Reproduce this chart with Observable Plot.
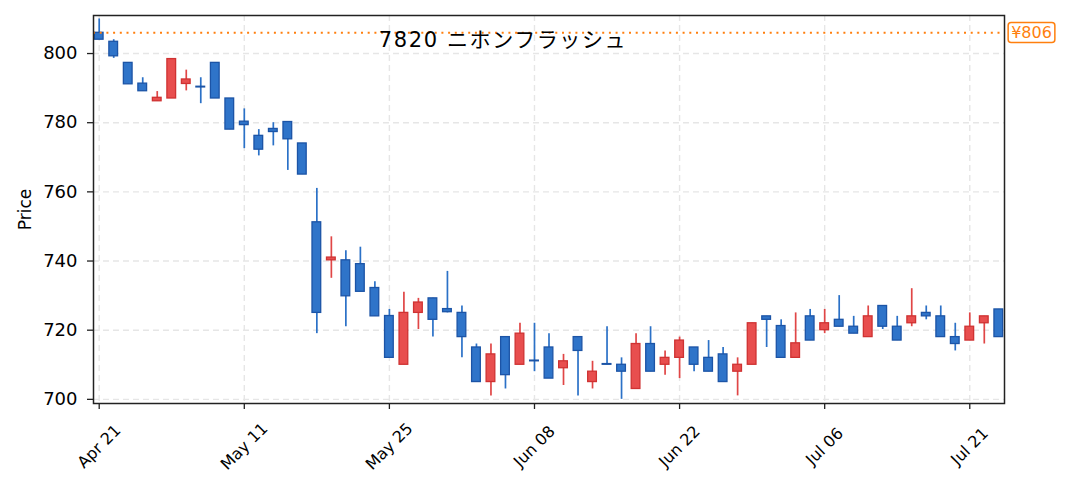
<!DOCTYPE html>
<html><head><meta charset="utf-8">
<script src="https://cdn.jsdelivr.net/npm/d3@7"></script>
<script src="https://cdn.jsdelivr.net/npm/@observablehq/plot@0.6"></script>
<style>
body{margin:0;background:#fff;}
#chart{width:1069px;height:492px;}
</style></head><body><div id="chart"></div>
<script>
const title = "7820 ニホンフラッシュ";
const refPrice = 806;
const opens  = [806,803.4,797.3,791.3,786.2,787,791.2,790.4,797.3,787,780.3,776.2,778.2,780.2,774,751.2,740.2,740.2,739.1,732.2,724.1,710,725,729.2,726.1,725,715,705,718,710,711.2,715,709,718,705,710.2,710,703,716,710,712,715,712,713,708,710,724,721.2,712,724,720,723,721,718,727,721,722,725,724,718,717,722,726];
const highs  = [810,804,797.3,793,789,798.4,795.2,793,797.3,787,784,778,780,780.2,774,761,747,743,744,734,726,731,729.2,729.2,737,727,716,716,718,722,722,719,713,718,711,721,712,719,721,714,718,715,717,715,712,722,724,723,725,726,726,730,724,727,727,724,732,727,727,722,725,724,726];
const lows   = [804,798.6,791.1,789.1,786.2,787,789.2,785.5,787,778,772.5,770.4,773.3,766.2,765,719,735,721,731.1,724,712,710,720.2,718,725,712,705,701,703,710,708,706,704,701,703,710,700,703,708,707,706,708,708,705,701,710,715,712,712,717,719,721,719,718,720.2,717,721,723,718,714,717,716,718];
const closes = [804,799.2,791.1,789.1,787.2,798.4,792.5,790.2,787,778,779.3,772.2,777.3,775.2,765,725,741,729.8,731.1,724,712,725,728,723,725.2,718,705,713,707,719,711,706,711,714,708,710,708,716,708,712,717,710,708,705,710,722,723,712,716.2,717,722,721,719,724,721,717,724,724,718,716,721,724,718];
const xTickIdx = [0,10,20,30,40,50,60];
const xTickLabels = ["Apr 21","May 11","May 25","Jun 08","Jun 22","Jul 06","Jul 21"];
const yTicks = [700,720,740,760,780,800];

const data = opens.map((o,i)=>({i, open:o, high:highs[i], low:lows[i], close:closes[i], up: closes[i] >= o}));
const blueFill="#2f74c9", blueStroke="#1c54a6", redFill="#e84e4e", redStroke="#cf3232";
const blueWick="#2b71c7", redWick="#e04646";
const orange="#ff7f0e";
const font = "'DejaVu Sans','Noto Sans CJK JP',sans-serif";

const chart = Plot.plot({
  width:1069, height:492,
  marginLeft:93, marginRight:65, marginTop:15, marginBottom:89,
  style:{fontFamily:font, fontSize:"16px", color:"#000", background:"#fff", overflow:"visible"},
  x:{type:"band", domain:d3.range(opens.length), paddingInner:0.4, paddingOuter:0.093, axis:null, label:null},
  y:{domain:[698.8, 811], axis:null, label:null},
  marks:[
    Plot.gridY(yTicks, {stroke:"#e6e6e6", strokeOpacity:1, strokeDasharray:"6,4", strokeWidth:1.4}),
    Plot.gridX(xTickIdx, {stroke:"#e6e6e6", strokeOpacity:1, strokeDasharray:"6,4", strokeWidth:1.4}),
    Plot.ruleX(data, {x:"i", y1:"low", y2:"high", stroke:d=>d.up?redWick:blueWick, strokeWidth:1.7}),
    Plot.barY(data, {x:"i", y1:"open", y2:"close", fill:d=>d.up?redFill:blueFill, stroke:d=>d.up?redStroke:blueStroke, strokeWidth:1.3}),
    Plot.ruleY([refPrice], {stroke:orange, strokeDasharray:"2,4.7", strokeWidth:2}),
    Plot.frame({stroke:"#222", strokeWidth:1.5}),
    Plot.axisY(yTicks, {tickSize:6, tickPadding:10, fontSize:18, stroke:"#222", strokeWidth:1.3, label:null}),
    Plot.axisX(xTickIdx, {tickSize:6, text:null, stroke:"#222", strokeWidth:1.3, label:null}),
    Plot.text(xTickIdx, {x:d=>d, text:(d,k)=>xTickLabels[k], frameAnchor:"bottom", lineAnchor:"middle", dy:43, rotate:-45, textAnchor:"middle", fontSize:16}),
    Plot.text(["Price"], {frameAnchor:"left", lineAnchor:"middle", textAnchor:"middle", dx:-68, rotate:-90, fontSize:17}),
    Plot.text([title], {frameAnchor:"top", lineAnchor:"middle", textAnchor:"middle", dx:-46, dy:25, fontSize:21, className:"titletext"}),
    Plot.text([refPrice], {y:d=>d, text:d=>"¥"+d, frameAnchor:"right", lineAnchor:"middle", textAnchor:"middle", dx:27, fill:orange, fontSize:16, className:"reflabel"})
  ]
});
document.getElementById("chart").appendChild(chart);
d3.select(chart).selectAll("g.titletext text").style("letter-spacing","1.6px");
d3.select(chart).selectAll("g.reflabel text").each(function(){
  const bb = this.getBBox();
  d3.select(this.parentNode).insert("rect","text")
    .attr("transform", this.getAttribute("transform"))
    .attr("x", bb.x-3).attr("y", bb.y-0.5).attr("width", bb.width+6).attr("height", bb.height+1)
    .attr("rx",3).attr("fill","#fff").attr("stroke",orange).attr("stroke-width",1.5);
});
</script>
</body></html>
